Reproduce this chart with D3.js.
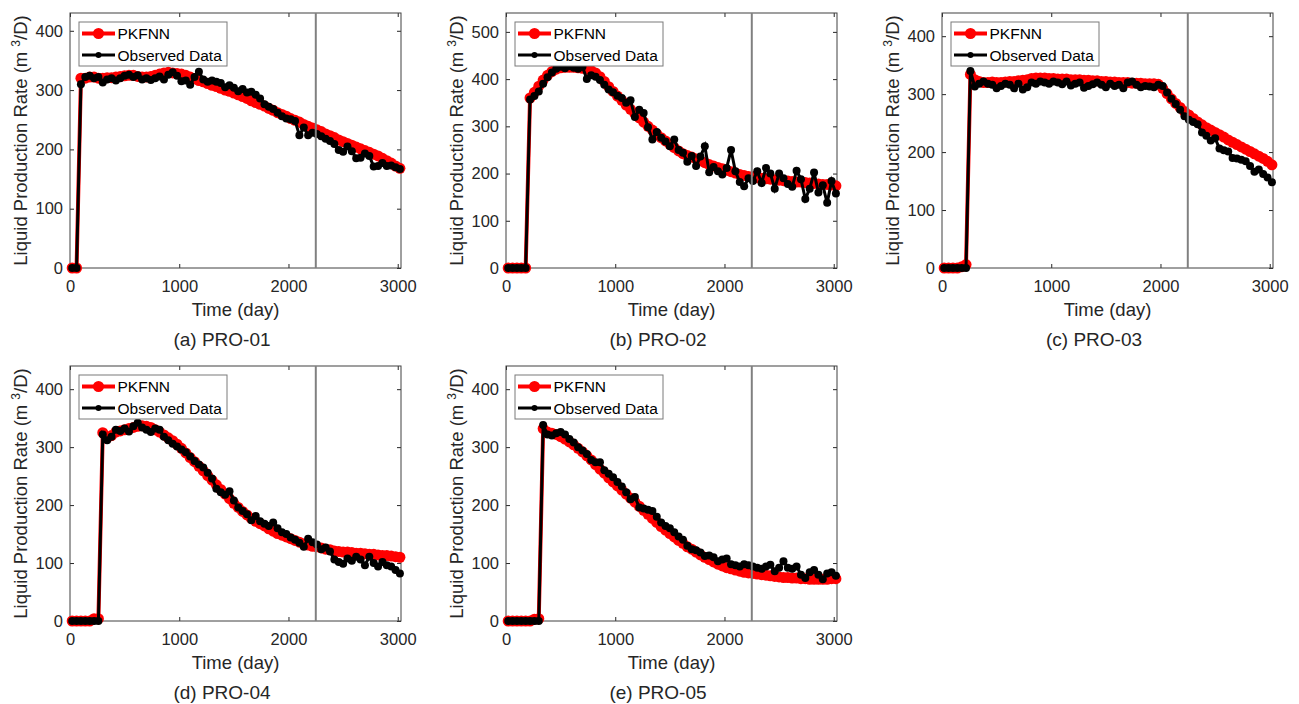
<!DOCTYPE html>
<html>
<head>
<meta charset="utf-8">
<script src="https://cdn.jsdelivr.net/npm/d3@7"></script>
<style>
  body { margin: 0; background: #fff; }
  svg { display: block; font-family: Arial, "Liberation Sans", sans-serif; }
</style>
</head>
<body>
<svg id="chart" width="1299" height="704"></svg>
<script>
// time axis shared by every well (day)
const days = [
  20, 60, 100, 140, 180, 220, 260, 300, 340, 380,
  420, 460, 500, 540, 580, 620, 660, 700, 740, 780,
  820, 860, 900, 940, 980, 1020, 1060, 1100, 1140, 1180,
  1220, 1260, 1300, 1340, 1380, 1420, 1460, 1500, 1540, 1580,
  1620, 1660, 1700, 1740, 1780, 1820, 1860, 1900, 1940, 1980,
  2020, 2060, 2100, 2140, 2180, 2220, 2260, 2300, 2340, 2380,
  2420, 2460, 2500, 2540, 2580, 2620, 2660, 2700, 2740, 2780,
  2820, 2860, 2900, 2940, 2980, 3020
];

// PRO-01
const pkfnnA = [
  0, 0, 320, 320, 322, 322, 320, 320, 321, 321,
  322, 323, 324, 325, 325, 323, 322, 322, 323, 325,
  327, 329, 330, 329, 328, 327, 325, 322, 319, 316,
  314, 311, 308, 306, 303, 300, 298, 295, 292, 289,
  286, 282, 279, 276, 273, 269, 266, 262, 259, 256,
  252, 249, 246, 242, 239, 236, 233, 230, 226, 223,
  220, 216, 213, 210, 207, 204, 201, 198, 195, 192,
  189, 185, 181, 177, 172, 168
];
const observedA = [
  0, 0, 310, 322, 324, 320, 322, 313, 318, 320,
  316, 320, 324, 326, 322, 325, 318, 320, 317, 320,
  323, 318, 326, 330, 324, 315, 316, 309, 322, 331,
  318, 314, 316, 314, 312, 305, 308, 304, 298, 302,
  296, 297, 292, 286, 276, 272, 268, 262, 256, 252,
  251, 248, 224, 237, 224, 228, 226, 222, 218, 214,
  209, 199, 196, 205, 197, 185, 186, 193, 189, 171,
  172, 177, 172, 173, 170, 167
];

// PRO-02
const pkfnnB = [
  0, 0, 0, 0, 0, 360, 372, 385, 398, 408,
  416, 421, 424, 425, 425, 425, 424, 423, 421, 418,
  413, 405, 395, 384, 374, 364, 355, 345, 336, 327,
  318, 309, 300, 292, 284, 276, 269, 262, 255, 248,
  242, 238, 235, 231, 227, 223, 219, 216, 213, 210,
  207, 204, 201, 198, 196, 194, 193, 191, 190, 189,
  188, 187, 186, 185, 184, 183, 182, 182, 181, 180,
  179, 178, 177, 177, 176, 174
];
const observedB = [
  0, 0, 0, 0, 0, 357, 364, 374, 390, 404,
  414, 422, 426, 423, 428, 424, 422, 426, 400, 408,
  405, 398, 388, 378, 372, 365, 360, 350, 355, 320,
  335, 328, 298, 272, 288, 276, 268, 258, 272, 250,
  244, 225, 237, 216, 236, 258, 203, 214, 205, 198,
  212, 250, 205, 182, 173, 190, 184, 205, 180, 212,
  200, 168, 200, 190, 178, 172, 206, 188, 146, 168,
  202, 160, 175, 138, 184, 158
];

// PRO-03
const pkfnnC = [
  0, 0, 0, 0, 2, 6, 334, 325, 322, 320,
  320, 321, 320, 320, 321, 322, 322, 323, 324, 325,
  327, 328, 328, 328, 327, 327, 326, 326, 326, 325,
  325, 325, 324, 324, 323, 323, 322, 322, 321, 321,
  320, 320, 320, 319, 319, 319, 318, 318, 318, 317,
  310, 301, 292, 284, 277, 270, 264, 258, 252, 247,
  242, 238, 234, 230, 226, 221, 217, 213, 209, 205,
  201, 197, 193, 189, 184, 178
];
const observedC = [
  0, 0, 0, 0, 0, 0, 340, 313, 318, 322,
  318, 316, 310, 314, 318, 316, 310, 318, 308, 312,
  320, 318, 322, 320, 318, 322, 320, 317, 322, 315,
  318, 320, 311, 314, 317, 320, 316, 312, 318, 314,
  316, 310, 320, 322, 316, 312, 314, 313, 312, 316,
  314, 303, 292, 283, 273, 262, 256, 252, 248, 234,
  228, 220, 224, 206, 203, 201, 190, 189, 187, 184,
  176, 166, 170, 162, 156, 148
];

// PRO-04
const pkfnnD = [
  0, 0, 0, 0, 0, 4, 4, 325, 316, 320,
  326, 328, 330, 332, 334, 336, 337, 336, 334, 330,
  326, 321, 316, 311, 305, 298, 290, 282, 275, 267,
  259, 251, 243, 235, 227, 219, 211, 203, 196, 189,
  183, 177, 172, 168, 164, 159, 155, 151, 148, 145,
  142, 139, 136, 133, 131, 129, 128, 126, 124, 123,
  121, 120, 119, 119, 118, 117, 117, 116, 115, 115,
  114, 113, 113, 112, 111, 110
];
const observedD = [
  0, 0, 0, 0, 0, 0, 0, 322, 312, 318,
  330, 328, 332, 327, 336, 342, 334, 330, 326, 332,
  330, 318, 312, 306, 301, 296, 291, 284, 276, 270,
  265, 256, 246, 228, 222, 218, 224, 208, 196, 190,
  184, 174, 181, 172, 168, 164, 170, 160, 153, 150,
  144, 140, 135, 128, 142, 136, 132, 124, 127, 120,
  106, 102, 99, 108, 104, 111, 106, 96, 111, 100,
  94, 102, 96, 94, 88, 82
];

// PRO-05
const pkfnnE = [
  0, 0, 0, 0, 0, 0, 3, 4, 332, 326,
  324, 322, 318, 314, 309, 304, 298, 292, 285, 278,
  270, 262, 255, 247, 240, 233, 226, 219, 212, 205,
  198, 191, 184, 177, 170, 163, 157, 151, 145, 139,
  134, 128, 124, 119, 114, 110, 106, 102, 98, 95,
  92, 90, 88, 86, 84, 83, 82, 81, 80, 79,
  78, 77, 76, 75, 75, 74, 74, 73, 73, 72,
  72, 72, 72, 72, 73, 73
];
const observedE = [
  0, 0, 0, 0, 0, 0, 0, 0, 338, 322,
  320, 324, 326, 322, 314, 308, 300, 294, 288, 278,
  274, 274, 260, 254, 248, 240, 232, 222, 210, 214,
  196, 194, 192, 190, 180, 170, 164, 160, 153, 146,
  140, 130, 124, 122, 118, 112, 113, 110, 103, 106,
  108, 98, 96, 94, 98, 96, 94, 92, 90, 94,
  97, 86, 92, 103, 92, 90, 94, 80, 74, 84,
  88, 80, 72, 82, 84, 78
];

const wellTitles = ["(a) PRO-01", "(b) PRO-02", "(c) PRO-03", "(d) PRO-04", "(e) PRO-05"];
const yMaxes = [430, 540, 440, 440, 440];
const xTicks = [0, 1000, 2000, 3000];
const xMax = 3030;
const splitDay = 2250;
const legendLabels = ["PKFNN", "Observed Data"];

const wells = [
  [pkfnnA, observedA],
  [pkfnnB, observedB],
  [pkfnnC, observedC],
  [pkfnnD, observedD],
  [pkfnnE, observedE]
];

// layout
const W = 331, H = 255;
const slots = [
  { x: 70, y: 13 }, { x: 506, y: 13 }, { x: 942, y: 13 },
  { x: 70, y: 366 }, { x: 506, y: 366 }
];
const axisColor = "#262626";
const fmt = d3.format("d");

const svg = d3.select("#chart");

wells.forEach(([pred, obs], i) => {
  const slot = slots[i];
  const g = svg.append("g").attr("transform", `translate(${slot.x},${slot.y})`);

  const x = d3.scaleLinear().domain([0, xMax]).range([0, W]);
  const y = d3.scaleLinear().domain([0, yMaxes[i]]).range([H, 0]);
  const yTicks = d3.range(0, yMaxes[i] + 1, 100);

  // axes (ticks point inward, box on)
  const styleAxis = sel => {
    sel.select(".domain").remove();
    sel.selectAll("line").attr("stroke", axisColor);
    sel.selectAll("text").attr("fill", axisColor).style("font-size", "16.5px");
  };
  g.append("g").attr("transform", `translate(0,${H})`)
    .call(d3.axisBottom(x).tickValues(xTicks).tickFormat(fmt)
      .tickSizeInner(-4).tickSizeOuter(0).tickPadding(12.3))
    .call(styleAxis);
  g.append("g")
    .call(d3.axisLeft(y).tickValues(yTicks).tickFormat(fmt)
      .tickSizeInner(-4).tickSizeOuter(0).tickPadding(7))
    .call(styleAxis);
  g.append("g")
    .call(d3.axisTop(x).tickValues(xTicks).tickSizeInner(-4).tickSizeOuter(0).tickFormat(""))
    .call(styleAxis);
  g.append("g").attr("transform", `translate(${W},0)`)
    .call(d3.axisRight(y).tickValues(yTicks).tickSizeInner(-4).tickSizeOuter(0).tickFormat(""))
    .call(styleAxis);

  g.append("rect")
    .attr("width", W).attr("height", H)
    .attr("fill", "none").attr("stroke", "#404040").attr("stroke-width", 1);

  const line = d3.line().x(d => x(d[0])).y(d => y(d[1]));
  const predPts = days.map((d, k) => [d, pred[k]]);
  const obsPts = days.map((d, k) => [d, obs[k]]);

  // PKFNN prediction
  g.append("path").datum(predPts)
    .attr("d", line).attr("fill", "none")
    .attr("stroke", "#ff0000").attr("stroke-width", 4);
  g.append("g").selectAll("circle").data(predPts).enter().append("circle")
    .attr("cx", d => x(d[0])).attr("cy", d => y(d[1]))
    .attr("r", 5.5).attr("fill", "#ff0000");

  // observed
  g.append("path").datum(obsPts)
    .attr("d", line).attr("fill", "none")
    .attr("stroke", "#000").attr("stroke-width", 3);
  g.append("g").selectAll("circle").data(obsPts).enter().append("circle")
    .attr("cx", d => x(d[0])).attr("cy", d => y(d[1]))
    .attr("r", 4).attr("fill", "#000");

  // history / forecast split
  g.append("line")
    .attr("x1", x(splitDay)).attr("x2", x(splitDay))
    .attr("y1", 0).attr("y2", H)
    .attr("stroke", "#808080").attr("stroke-width", 2);

  // legend
  const lg = g.append("g").attr("transform", "translate(9,9)");
  lg.append("rect").attr("width", 148).attr("height", 44)
    .attr("fill", "#fff").attr("stroke", "#7a7a7a").attr("stroke-width", 1);
  legendLabels.forEach((label, k) => {
    const cy = 11.5 + k * 21.5;
    const isPred = k === 0;
    lg.append("line").attr("x1", 3).attr("x2", 36).attr("y1", cy).attr("y2", cy)
      .attr("stroke", isPred ? "#ff0000" : "#000").attr("stroke-width", isPred ? 4 : 3);
    lg.append("circle").attr("cx", 19.5).attr("cy", cy).attr("r", isPred ? 5.5 : 3)
      .attr("fill", isPred ? "#ff0000" : "#000");
    lg.append("text").attr("x", 38.5).attr("y", cy + 5.5)
      .attr("fill", "#000").style("font-size", "15.5px").text(label);
  });

  // axis labels
  g.append("text")
    .attr("x", W / 2).attr("y", H + 48)
    .attr("text-anchor", "middle").attr("fill", axisColor)
    .style("font-size", "18.5px").text("Time (day)");

  const yl = g.append("text")
    .attr("transform", "rotate(-90)")
    .attr("x", -H / 2).attr("y", -43)
    .attr("text-anchor", "middle").attr("fill", axisColor)
    .style("font-size", "18.5px");
  yl.append("tspan").text("Liquid Production Rate (m ");
  yl.append("tspan").attr("dy", -7).style("font-size", "12px").text("3");
  yl.append("tspan").attr("dy", 7).text("/D)");

  // subplot caption
  g.append("text")
    .attr("x", W / 2 - 13.5).attr("y", H + 78)
    .attr("text-anchor", "middle").attr("fill", axisColor)
    .style("font-size", "19px").text(wellTitles[i]);
});
</script>
</body>
</html>
